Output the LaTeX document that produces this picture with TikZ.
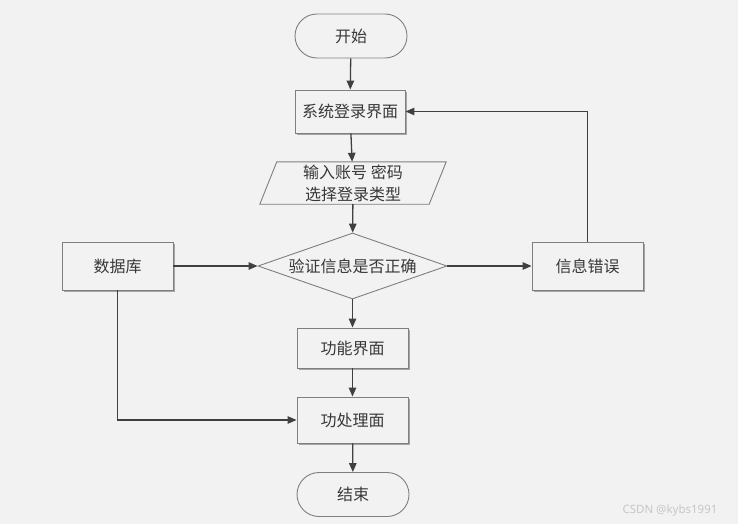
\documentclass[tikz,border=0pt]{standalone}
\usepackage{fontspec}
\newfontfamily\cjk{Noto Sans CJK SC}
\newfontfamily\wmfont{Noto Sans}
\usetikzlibrary{shapes.geometric,shapes.misc,arrows.meta,calc,shadows}
\definecolor{bgc}{HTML}{F2F2F2}
\definecolor{edgec}{HTML}{7F7F7F}
\definecolor{linec}{HTML}{404040}
\definecolor{txtc}{HTML}{383838}
\begin{document}
\begin{tikzpicture}[x=1pt,y=-1pt,
  every node/.style={font=\cjk\fontsize{16}{22}\selectfont, text=txtc},
  boxsty/.style={draw=edgec, line width=0.9pt, fill=bgc, rectangle, inner sep=0,
    drop shadow={shadow xshift=1.6pt, shadow yshift=-1.6pt, fill=edgec!70, opacity=1}},
  termsty/.style={draw=edgec, line width=0.9pt, fill=bgc, rounded rectangle, inner sep=0,
    minimum width=112, minimum height=44},
  flow/.style={draw=linec, line width=1.3pt, -{Triangle[length=9pt,width=7.5pt]}}
]
\fill[bgc] (0,0) rectangle (738,524);
\useasboundingbox (0,0) rectangle (738,524);

\node[termsty] (start) at (351,36) {开始};
\node[boxsty, minimum width=110, minimum height=43] (sys) at (350,111.5) {系统登录界面};
\node[inner sep=0, minimum width=169, minimum height=42, align=center] (para) at (353,183) {输入账号 密码\\选择登录类型};
\draw[edgec, line width=0.9pt]
  ($(para.north west)+(8.5,0)$) -- ($(para.north east)+(8.5,0)$)
  -- ($(para.south east)+(-8.5,0)$) -- ($(para.south west)+(-8.5,0)$) -- cycle;
\node[diamond, draw=edgec, line width=0.9pt, inner sep=0, aspect=2.86,
  minimum width=189, minimum height=66] (chk) at (352.5,266) {验证信息是否正确};
\node[boxsty, minimum width=111, minimum height=48] (db) at (117.5,266) {数据库};
\node[boxsty, minimum width=111, minimum height=48] (err) at (587.5,266) {信息错误};
\node[boxsty, minimum width=111, minimum height=40] (func) at (352.5,348) {功能界面};
\node[boxsty, minimum width=111, minimum height=46] (proc) at (352.5,420) {功处理面};
\node[termsty] (end) at (353,494.5) {结束};

\draw[flow] (start) -- (sys);
\draw[flow] (sys) -- (para);
\draw[flow] (para) -- (chk);
\draw[flow] (chk) -- (func);
\draw[flow] (func) -- (proc);
\draw[flow] (proc) -- (end);
\draw[flow] (db) -- (chk);
\draw[flow] (chk) -- (err);
\draw[flow] (err.north) |- (sys.east);
\draw[flow] (db.south) |- (proc.west);

\node[font=\wmfont\fontsize{11.5}{13}\selectfont, text=black!22, anchor=east] (wm) at (721,511) {CSDN @kybs1991};
\end{tikzpicture}
\end{document}
